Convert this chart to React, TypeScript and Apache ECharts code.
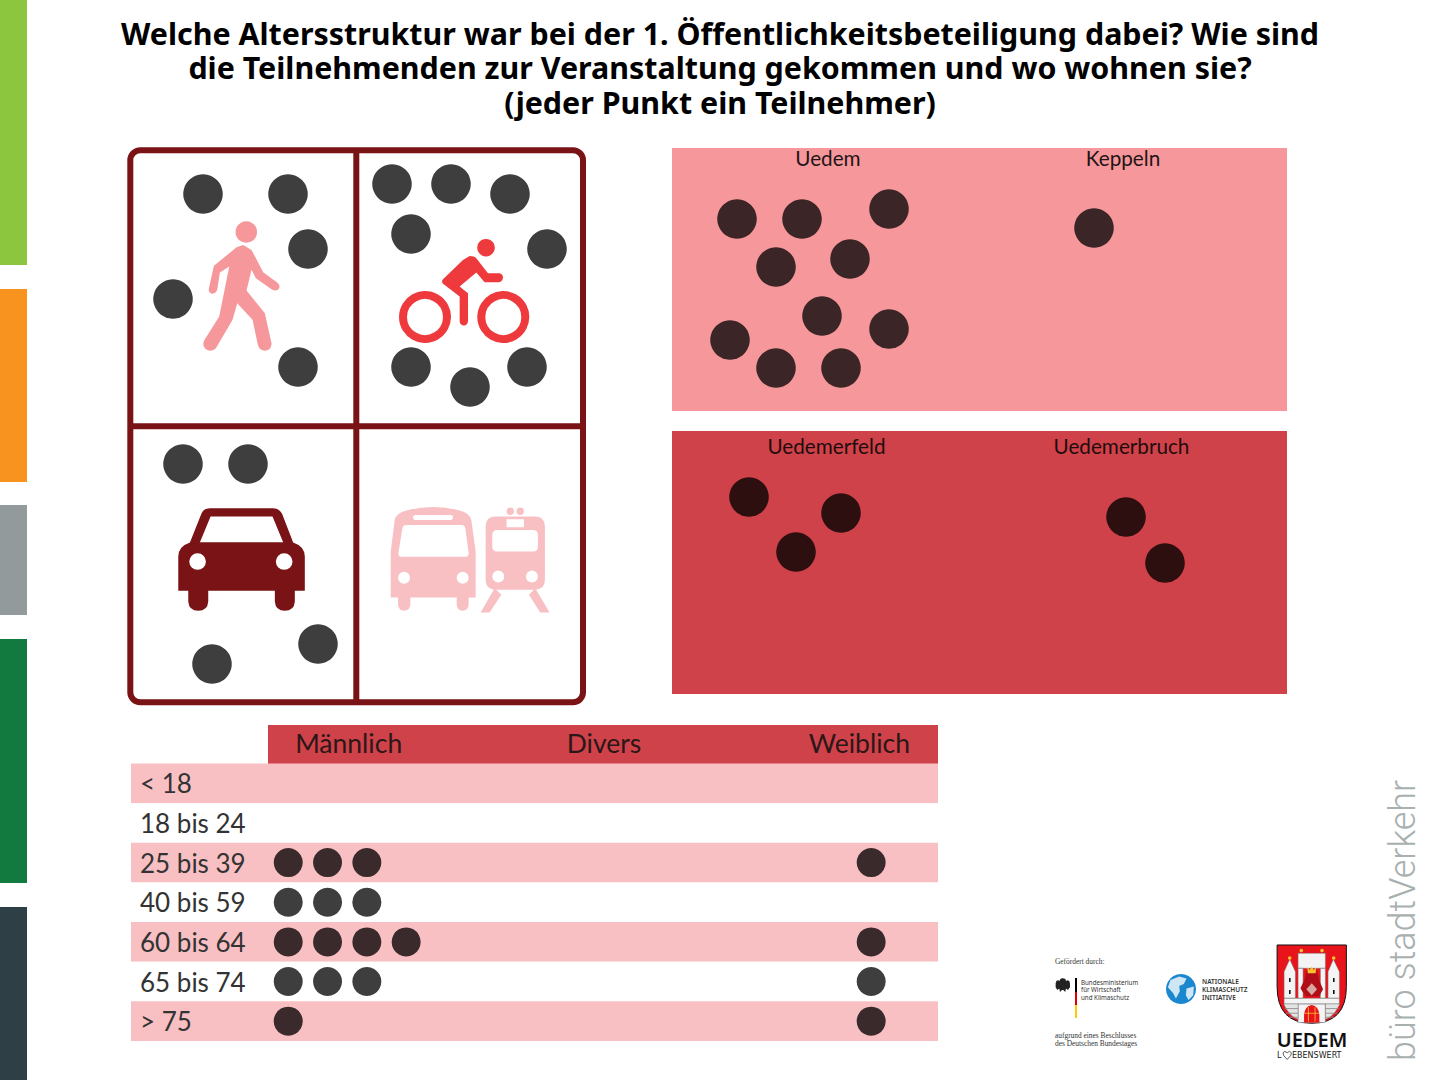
import React, { useEffect, useRef } from "react";
import * as echarts from "echarts";

const titleText =
  "Welche Altersstruktur war bei der 1. Öffentlichkeitsbeteiligung dabei? Wie sind\ndie Teilnehmenden zur Veranstaltung gekommen und wo wohnen sie?\n(jeder Punkt ein Teilnehmer)";

// one dot = one participant, positions (panel units)
const walking = [[76, 47], [161, 47], [181, 102], [46, 152], [171, 220]];
const cycling = [[265, 37], [324, 37], [383, 47], [284, 87], [420, 102], [284, 220], [343, 240], [400, 220]];
const driving = [[56, 317], [121, 317], [85, 517], [191, 497]];

const uedem = [[65, 71], [130, 71], [217, 61], [104, 119], [178, 111], [150, 168], [217, 181], [58, 192], [104, 220], [169, 220]];
const keppeln = [[422, 80]];
const uedemerfeld = [[77, 66], [169, 82], [124, 121]];
const uedemerbruch = [[454, 86], [493, 132]];

const placesTop = ["Uedem", "Keppeln"];
const placesBottom = ["Uedemerfeld", "Uedemerbruch"];

const ageGroups = ["< 18", "18 bis 24", "25 bis 39", "40 bis 59", "60 bis 64", "65 bis 74", "> 75"];
const genders = ["Männlich", "Divers", "Weiblich"];
const maleCounts = [0, 0, 3, 3, 4, 3, 1];
const diverseCounts = [0, 0, 0, 0, 0, 0, 0];
const femaleCounts = [0, 0, 1, 0, 1, 1, 1];

const MALE_START = 4;
const DIVERSE_START = 12;
const FEMALE_START = 18.83;

const FONT = "Lato";
const DARK_RED = "#7a1315";
const RED = "#cf4249";
const SALMON = "#f6989b";
const PINK = "#f9c0c3";
const DOT = "#3e3e3e";

// icon outlines, in 3x crop coordinates
const shapes: Record<string, string> = {
  walker:
    "M370 315 L395 330 L430 397 L472 428 Q484 438 476 448 Q468 456 456 449 L408 415 L395 390 L380 452 L435 520 L455 610 Q456 630 436 633 Q418 633 414 615 L398 540 L352 490 L338 540 L288 625 Q272 640 256 627 Q245 615 254 600 L298 530 L328 380 L300 398 L292 450 Q286 464 274 461 Q264 458 267 445 L282 378 L350 322 Z",
  rider:
    "M1050 348 Q1064 348 1070 355 L1105 400 L1140 400 Q1151 403 1150 414 Q1149 426 1138 427 L1095 427 L1070 398 L1020 440 L1045 460 L1045 545 Q1043 557 1032 557 Q1021 556 1020 545 L1020 470 L970 432 Q964 424 970 418 L1030 360 Z",
  carBody:
    "M175 410 Q175 380 210 368 L245 280 Q252 265 270 265 L460 265 Q478 265 487 282 L520 368 Q555 380 555 410 L555 513 L525 513 L525 545 Q523 573 495 573 Q467 573 465 545 L465 513 L265 513 L265 545 Q263 573 235 573 Q207 573 205 545 L205 513 L175 513 Z",
  carHoles:
    "M272 290 L458 290 L490 367 L240 367 Z M208 425 a25 25 0 1 0 50 0 a25 25 0 1 0 -50 0 Z M468 425 a25 25 0 1 0 50 0 a25 25 0 1 0 -50 0 Z",
  busBody:
    "M813 533 L813 395 L825 300 Q830 280 860 272 Q940 250 1020 272 Q1050 280 1055 300 L1068 395 L1068 533 L1047 533 L1047 555 Q1045 573 1029 573 Q1013 573 1011 555 L1011 533 L872 533 L872 555 Q870 573 853 573 Q837 573 835 555 L835 533 Z",
  busHoles:
    "M848 325 Q850 315 860 315 L1025 315 Q1035 315 1037 325 L1047 400 Q1047 411 1037 411 L847 411 Q835 411 836 400 Z M888 285 L992 285 Q1000 285 1000 292 Q1000 300 992 300 L888 300 Q880 300 880 292 Q880 285 888 285 Z M835 474 a18 18 0 1 0 36 0 a18 18 0 1 0 -36 0 Z M1011 474 a18 18 0 1 0 36 0 a18 18 0 1 0 -36 0 Z",
  tramBody:
    "M1098 320 Q1098 290 1128 290 L1245 290 Q1276 290 1276 320 L1276 480 Q1276 510 1245 510 L1128 510 Q1098 510 1098 480 Z M1161 274 a11 11 0 1 0 22 0 a11 11 0 1 0 -22 0 Z M1191 274 a11 11 0 1 0 22 0 a11 11 0 1 0 -22 0 Z M1125 505 L1145 525 L1110 578 L1083 578 Z M1247 505 L1290 578 L1262 578 L1228 525 Z",
  tramHoles:
    "M1133 330 L1240 330 Q1255 330 1255 345 L1255 380 Q1255 395 1240 395 L1133 395 Q1118 395 1118 380 L1118 345 Q1118 330 1133 330 Z M1161 298 L1213 298 L1213 322 L1161 322 Z M1118 470 a18 18 0 1 0 36 0 a18 18 0 1 0 -36 0 Z M1219 470 a18 18 0 1 0 36 0 a18 18 0 1 0 -36 0 Z",
  eagle:
    "M68 145 Q78 145 78 153 Q88 146 90 160 L90 172 L84 180 L78 176 L76 186 L70 180 L66 180 L60 186 L58 176 L52 180 L47 172 L47 160 Q49 146 59 153 Q59 145 68 145 Z",
  land:
    "M392 150 L418 140 L440 146 L432 162 L418 168 L420 184 L408 206 L400 190 L384 172 Z M440 176 L462 170 L460 196 L446 210 L438 196 Z",
  shield: "M712 45 L920 45 L920 170 Q920 280 816 280 Q712 280 712 170 Z",
  castle:
    "M733 125 L750 88 L767 125 L767 205 L733 205 Z M865 125 L881 88 L899 125 L899 205 L865 205 Z M775 70 L857 70 L857 115 L775 115 Z M775 115 L790 115 L790 205 L775 205 Z M842 115 L857 115 L857 205 L842 205 Z M733 205 L899 205 L899 222 L733 222 Z M775 222 L857 222 L857 278 L775 278 Z",
  walls: "M733 222 L775 222 L775 268 Q750 260 733 225 Z M857 222 L899 222 L899 225 Q882 260 857 268 Z",
  griffin:
    "M800 122 L832 122 L838 150 L850 178 L838 200 L800 200 L788 185 L782 175 L795 148 Z",
  griffinCrest: "M816 160 L832 178 L816 196 L800 178 Z",
  crown: "M803 112 L810 120 L816 110 L822 120 L829 112 L828 130 L804 130 Z",
  gate: "M793 278 L793 255 Q795 228 816 225 Q837 228 839 255 L839 278 Z",
  gateBars: "M806 232 L806 275 M826 232 L826 275 M795 250 L837 250",
  bricks:
    "M735 236 L775 236 M738 250 L775 250 M748 262 L775 262 M857 236 L897 236 M857 250 L894 250 M857 262 L884 262",
  heart:
    "M0 3 Q3 -2 7 3 Q11 -2 14 3 Q15 7 7 14 Q-1 7 0 3 Z",
};
Object.keys(shapes).forEach((name) => {
  echarts.graphic.registerShape(name, echarts.graphic.extendPath(shapes[name], {}));
});

const crop = (type: string, ox: number, oy: number, style: any) => ({
  type,
  x: ox,
  y: oy,
  scaleX: 1 / 3,
  scaleY: 1 / 3,
  style,
});

const bar = (y: number, height: number, fill: string) => ({
  type: "rect",
  shape: { x: 0, y, width: 27, height },
  style: { fill },
});

const note = (text: string, x: number, y: number, size: number, font: string, fill = "#333", fontWeight = "normal") => ({
  type: "text",
  x,
  y,
  style: { text, fontSize: size, fontFamily: font, fill, fontWeight, verticalAlign: "middle" },
});

const scatter = (data: any, xAxisIndex: number, color: string | ((p: any) => string), symbolSize = 39.5) => ({
  type: "scatter",
  xAxisIndex,
  yAxisIndex: xAxisIndex,
  data,
  symbolSize,
  itemStyle: { color, opacity: 1 },
  silent: true,
});

const hiddenAxis = (gridIndex: number, max: number, inverse = false) => ({
  type: "value",
  gridIndex,
  min: 0,
  max,
  inverse,
  show: false,
});

const labelAxis = (gridIndex: number, data: string[], fontSize: number, color: string) => ({
  type: "category",
  gridIndex,
  data,
  axisLine: { show: false },
  axisTick: { show: false },
  axisLabel: { inside: true, margin: 5, fontSize, color, fontFamily: FONT, interval: 0 },
});

// one dot per counted person, side by side from the start of the column
const agePoints = (counts: number[], start: number) =>
  counts.flatMap((n, row) => Array.from({ length: n }, (_, i) => [start + i, row]));

const App = () => {
  const chartRef = useRef<HTMLDivElement>(null);

  useEffect(() => {
    if (!chartRef.current) return;
    document.body.style.margin = "0";
    const chart = echarts.init(chartRef.current, null, { renderer: "svg" });

    chart.setOption({
      animation: false,
      backgroundColor: "#fff",
      title: {
        text: titleText,
        left: 715,
        top: 11,
        textAlign: "center",
        textStyle: { fontFamily: "Noto Sans", fontWeight: 700, fontSize: 30.4, lineHeight: 34.5, color: "#000" },
      },
      grid: [
        { left: 127, top: 147, width: 459, height: 558 },
        { left: 672, top: 148, width: 615, height: 263 },
        { left: 672, top: 431, width: 615, height: 263 },
        { left: 131, top: 763.5, width: 807, height: 277.5 },
        { left: 221, top: 725, width: 766, height: 36 },
        { left: 680.5, top: 148, width: 590, height: 25 },
        { left: 679, top: 431, width: 590, height: 30 },
      ],
      xAxis: [
        hiddenAxis(0, 459),
        hiddenAxis(1, 615),
        hiddenAxis(2, 615),
        hiddenAxis(3, 20.53),
        labelAxis(4, genders, 26.5, "#2b1718"),
        labelAxis(5, placesTop, 20.7, "#1f1416"),
        labelAxis(6, placesBottom, 20.7, "#1f0c0d"),
      ],
      yAxis: [
        hiddenAxis(0, 558, true),
        hiddenAxis(1, 263, true),
        hiddenAxis(2, 263, true),
        {
          type: "category",
          gridIndex: 3,
          inverse: true,
          data: ageGroups,
          axisLine: { show: false },
          axisTick: { show: false },
          splitArea: { show: true, interval: 0, areaStyle: { color: [PINK, "#fff"] } },
          axisLabel: {
            inside: true,
            margin: 9,
            fontSize: 26,
            color: "#333",
            fontFamily: FONT,
            align: "left",
            interval: 0,
          },
        },
        { type: "value", gridIndex: 4, show: false },
        { type: "value", gridIndex: 5, show: false },
        { type: "value", gridIndex: 6, show: false },
      ],
      series: [
        scatter(walking, 0, DOT),
        scatter(cycling, 0, DOT),
        scatter(driving, 0, DOT),
        scatter(uedem, 1, "#3b2526"),
        scatter(keppeln, 1, "#3b2526"),
        scatter(uedemerfeld, 2, "#2e0f10"),
        scatter(uedemerbruch, 2, "#2e0f10"),
        ...[
          agePoints(maleCounts, MALE_START),
          agePoints(diverseCounts, DIVERSE_START),
          agePoints(femaleCounts, FEMALE_START),
        ].map((pts) =>
          scatter(pts, 3, (p: any) => (p.value[1] % 2 === 0 ? "#3b2a2b" : DOT), 29)
        ),
      ],
      graphic: {
        elements: [
          bar(0, 265, "#8cc63f"),
          bar(289, 193, "#f7931e"),
          bar(505, 110, "#929a9b"),
          bar(639, 244, "#127a3e"),
          bar(907, 173, "#2e4045"),

          // transport frame
          {
            type: "rect",
            shape: { x: 130.3, y: 150.3, width: 452.7, height: 552, r: 10 },
            style: { fill: "#fff", stroke: DARK_RED, lineWidth: 6 },
          },
          { type: "line", shape: { x1: 356.3, y1: 150, x2: 356.3, y2: 702 }, style: { stroke: DARK_RED, lineWidth: 6 } },
          { type: "line", shape: { x1: 130, y1: 426.3, x2: 583, y2: 426.3 }, style: { stroke: DARK_RED, lineWidth: 6 } },

          crop("walker", 120, 140, { fill: SALMON }),
          { type: "circle", shape: { cx: 246.3, cy: 232, r: 10.8 }, style: { fill: SALMON } },
          crop("rider", 120, 140, { fill: "#ee3a3c" }),
          { type: "circle", shape: { cx: 486, cy: 247.7, r: 8.8 }, style: { fill: "#ee3a3c" } },
          { type: "circle", shape: { cx: 425, cy: 317, r: 22 }, style: { fill: "none", stroke: "#ee3a3c", lineWidth: 8 } },
          { type: "circle", shape: { cx: 503.3, cy: 317, r: 22 }, style: { fill: "none", stroke: "#ee3a3c", lineWidth: 8 } },
          crop("carBody", 120, 420, { fill: DARK_RED }),
          crop("carHoles", 120, 420, { fill: "#fff" }),
          crop("busBody", 120, 420, { fill: PINK }),
          crop("busHoles", 120, 420, { fill: "#fff" }),
          crop("tramBody", 120, 420, { fill: PINK }),
          crop("tramHoles", 120, 420, { fill: "#fff" }),

          // place panels and table header
          { type: "rect", z: -1, shape: { x: 672, y: 148, width: 615, height: 263 }, style: { fill: SALMON } },
          { type: "rect", z: -1, shape: { x: 672, y: 431, width: 615, height: 263 }, style: { fill: RED } },
          { type: "rect", z: -1, shape: { x: 268, y: 725, width: 670, height: 39 }, style: { fill: RED } },

          // funding notes
          note("Gefördert durch:", 1055, 961.5, 7.4, "Liberation Serif", "#333"),
          crop("eagle", 1040, 930, { fill: "#222" }),
          { type: "rect", shape: { x: 1075, y: 978, width: 2, height: 14 }, style: { fill: "#000" } },
          { type: "rect", shape: { x: 1075, y: 992, width: 2, height: 13 }, style: { fill: "#dd0000" } },
          { type: "rect", shape: { x: 1075, y: 1005, width: 2, height: 13 }, style: { fill: "#ffcc00" } },
          note("Bundesministerium", 1081, 982, 6.2, "Noto Sans"),
          note("für Wirtschaft", 1081, 989.5, 6.2, "Noto Sans"),
          note("und Klimaschutz", 1081, 997, 6.2, "Noto Sans"),
          note("aufgrund eines Beschlusses", 1055, 1035, 7.4, "Liberation Serif"),
          note("des Deutschen Bundestages", 1055, 1043, 7.4, "Liberation Serif"),
          { type: "circle", shape: { cx: 1181, cy: 989, r: 15 }, style: { fill: "#1b87cf" } },
          crop("land", 1040, 930, { fill: "#cfe6f5" }),
          note("NATIONALE", 1202, 981, 6.5, "Noto Sans", "#333", "600"),
          note("KLIMASCHUTZ", 1202, 989, 6.5, "Noto Sans", "#333", "600"),
          note("INITIATIVE", 1202, 997, 6.5, "Noto Sans", "#333", "600"),

          // coat of arms
          crop("shield", 1040, 930, { fill: "#e8131b", stroke: "#111", lineWidth: 3 }),
          crop("castle", 1040, 930, { fill: "#f4f4f4", stroke: "#777", lineWidth: 1.5 }),
          crop("walls", 1040, 930, { fill: "#e4e4e4", stroke: "#777", lineWidth: 1.5 }),
          crop("bricks", 1040, 930, { fill: "none", stroke: "#888", lineWidth: 2.5 }),
          crop("griffin", 1040, 930, { fill: "#b00d18" }),
          crop("griffinCrest", 1040, 930, { fill: "#d9a7a0" }),
          crop("crown", 1040, 930, { fill: "#f4c430" }),
          crop("gate", 1040, 930, { fill: "#e8131b" }),
          crop("gateBars", 1040, 930, { fill: "none", stroke: "#f4c430", lineWidth: 2.5 }),
          { type: "circle", shape: { cx: 1289.7, cy: 958, r: 1.8 }, style: { fill: "#f4c430" } },
          { type: "circle", shape: { cx: 1333.7, cy: 958, r: 1.8 }, style: { fill: "#f4c430" } },
          { type: "circle", shape: { cx: 1301.3, cy: 950.5, r: 1.8 }, style: { fill: "#f4c430" } },
          { type: "circle", shape: { cx: 1322, cy: 950.5, r: 1.8 }, style: { fill: "#f4c430" } },
          { type: "rect", shape: { x: 1289, y: 978, width: 1.6, height: 4 }, style: { fill: "#111" } },
          { type: "rect", shape: { x: 1289, y: 990, width: 1.6, height: 4 }, style: { fill: "#111" } },
          { type: "rect", shape: { x: 1333, y: 978, width: 1.6, height: 4 }, style: { fill: "#111" } },
          { type: "rect", shape: { x: 1333, y: 990, width: 1.6, height: 4 }, style: { fill: "#111" } },
          {
            type: "text",
            x: 1312,
            y: 1039.5,
            style: { text: "UEDEM", fontSize: 20, fontFamily: "Noto Sans", fontWeight: 600, fill: "#111", align: "center", verticalAlign: "middle" },
          },
          note("L", 1277, 1055.5, 8, "DejaVu Sans", "#222"),
          { type: "heart", x: 1283, y: 1051, scaleX: 0.6, scaleY: 0.6, style: { fill: "none", stroke: "#222", lineWidth: 1.2 } },
          note("EBENSWERT", 1292, 1055.5, 8, "DejaVu Sans", "#222"),
          {
            type: "text",
            x: 1403,
            y: 1061,
            rotation: Math.PI / 2,
            style: { text: "büro stadtVerkehr", fontSize: 36, fontFamily: "Roboto", fontWeight: 300, fill: "#a9b0b0", align: "left", verticalAlign: "middle" },
          },
        ],
      },
    });

    return () => {
      chart.dispose();
    };
  }, []);

  return <div ref={chartRef} style={{ width: 1440, height: 1080 }} />;
};

export default App;
